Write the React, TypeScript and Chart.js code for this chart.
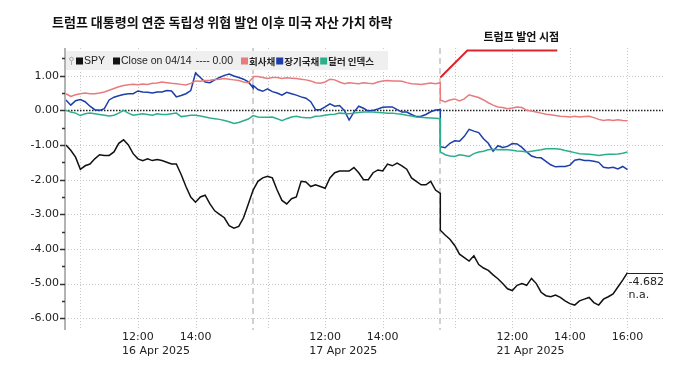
import { useEffect, useRef } from 'react';
import { Chart, registerables } from 'chart.js';

Chart.register(...registerables);

// ---- data (10-minute steps, 9:30–16:00, 40 points per trading day) ----
const DAYS = ['16 Apr 2025', '17 Apr 2025', '21 Apr 2025'];
const STEPS_PER_DAY = 39;

const spy = [
  -1.0, -1.15, -1.35, -1.7, -1.6, -1.55, -1.4, -1.28, -1.3, -1.3,
  -1.2, -0.95, -0.85, -1.0, -1.25, -1.4, -1.45, -1.4, -1.45, -1.42,
  -1.45, -1.5, -1.55, -1.55, -1.85, -2.2, -2.5, -2.65, -2.5, -2.45,
  -2.7, -2.9, -3.0, -3.1, -3.33, -3.4, -3.35, -3.1, -2.7, -2.3,
  -2.3, -2.05, -1.95, -1.9, -1.95, -2.3, -2.6, -2.7, -2.55, -2.5,
  -2.05, -2.07, -2.2, -2.15, -2.2, -2.25, -1.95, -1.8, -1.75, -1.75,
  -1.75, -1.65, -1.8, -2.0, -2.0, -1.8, -1.72, -1.75, -1.55, -1.6,
  -1.52, -1.6, -1.7, -1.95, -2.05, -2.15, -2.15, -2.05, -2.3, -2.4,
  -3.46, -3.6, -3.72, -3.9, -4.15, -4.25, -4.35, -4.2, -4.45, -4.55,
  -4.62, -4.75, -4.86, -5.0, -5.15, -5.2, -5.05, -5.0, -5.05, -4.85,
  -5.0, -5.25, -5.35, -5.38, -5.33, -5.4, -5.5, -5.58, -5.62, -5.5,
  -5.45, -5.4, -5.55, -5.62, -5.45, -5.38, -5.3, -5.1, -4.9, -4.682,
];

const corporateBonds = [
  0.48, 0.4, 0.45, 0.48, 0.5, 0.48, 0.48, 0.5, 0.53, 0.58,
  0.63, 0.68, 0.72, 0.74, 0.75, 0.74, 0.76, 0.75, 0.78, 0.79,
  0.82, 0.8, 0.78, 0.77, 0.75, 0.73, 0.78, 0.85, 0.84, 0.86,
  0.87, 0.89, 0.9, 0.92, 0.9, 0.88, 0.86, 0.82, 0.8, 0.95,
  0.98, 0.98, 0.95, 0.92, 0.95, 0.95, 0.92, 0.94, 0.93, 0.92,
  0.9, 0.88, 0.85, 0.8, 0.78, 0.82, 0.9, 0.88, 0.82, 0.77,
  0.8, 0.78, 0.77, 0.8, 0.78, 0.77, 0.82, 0.85, 0.86, 0.85,
  0.85, 0.84, 0.8, 0.77, 0.76, 0.75, 0.77, 0.79, 0.77, 0.8,
  0.3, 0.24, 0.3, 0.33, 0.27, 0.33, 0.45, 0.41, 0.37, 0.3,
  0.22, 0.15, 0.1, 0.08, 0.05, 0.07, 0.1, 0.08, 0.0, -0.02,
  -0.05, -0.08, -0.11, -0.13, -0.15, -0.17, -0.18, -0.19, -0.17, -0.19,
  -0.18, -0.17, -0.21, -0.26, -0.29, -0.27, -0.29, -0.27, -0.29, -0.3,
];

const longTreasuries = [
  0.3, 0.15, 0.28, 0.31, 0.25, 0.12, 0.02, 0.0, 0.05, 0.3,
  0.38, 0.42, 0.46, 0.48, 0.48, 0.56, 0.53, 0.52, 0.5, 0.53,
  0.53, 0.57, 0.56, 0.39, 0.43, 0.48, 0.57, 1.08, 0.95, 0.82,
  0.8, 0.88, 0.95, 1.01, 1.05, 0.99, 0.95, 0.9, 0.82, 0.65,
  0.72, 0.6, 0.55, 0.62, 0.54, 0.5, 0.44, 0.52, 0.48, 0.44,
  0.39, 0.35, 0.25, 0.02, 0.02, 0.1, 0.19, 0.12, 0.14, 0.0,
  -0.28, -0.05, 0.12, 0.06, -0.02, 0.0, 0.04, 0.09, 0.1, 0.1,
  0.02, -0.05, -0.05, -0.12, -0.18, -0.17, -0.12, -0.04, 0.01, 0.02,
  -1.05, -1.08, -0.95, -0.88, -0.89, -0.75, -0.55, -0.6, -0.64, -0.82,
  -0.95, -1.18, -1.02, -1.07, -1.04, -0.96, -0.97, -1.07, -1.2, -1.32,
  -1.36, -1.37, -1.47, -1.57, -1.63, -1.62, -1.62, -1.58, -1.44, -1.41,
  -1.45, -1.45, -1.47, -1.5, -1.64, -1.66, -1.64, -1.69, -1.62, -1.71,
];

const dollarIndex = [
  0.0, -0.05, -0.08, -0.15, -0.1, -0.08, -0.1, -0.12, -0.14, -0.16,
  -0.14, -0.08, 0.0, -0.08, -0.14, -0.12, -0.1, -0.12, -0.14, -0.1,
  -0.12, -0.12, -0.1, -0.08, -0.18, -0.16, -0.14, -0.14, -0.16, -0.19,
  -0.22, -0.24, -0.26, -0.29, -0.33, -0.38, -0.35, -0.3, -0.25, -0.15,
  -0.15, -0.19, -0.2, -0.2, -0.19, -0.24, -0.3, -0.24, -0.19, -0.17,
  -0.2, -0.21, -0.21, -0.17, -0.16, -0.14, -0.12, -0.11, -0.08, -0.09,
  -0.1, -0.08, -0.06, -0.05, -0.05, -0.05, -0.06, -0.07, -0.08, -0.08,
  -0.1, -0.11, -0.14, -0.16, -0.19, -0.2, -0.21, -0.22, -0.23, -0.24,
  -1.2, -1.28, -1.32, -1.33, -1.28, -1.3, -1.33, -1.25, -1.2, -1.18,
  -1.14, -1.12, -1.14, -1.13, -1.14, -1.15, -1.17, -1.18, -1.2, -1.18,
  -1.16, -1.14, -1.11, -1.11, -1.11, -1.12, -1.16, -1.19, -1.22, -1.25,
  -1.26, -1.27, -1.28, -1.3, -1.28, -1.27, -1.27, -1.26, -1.24, -1.2,
];

// x-axis ticks (index in 10-minute steps from 16 Apr open)
const timeTickIdx = [15, 27, 54, 66, 93, 105, 117];
const timeTickLabels = ['12:00', '14:00', '12:00', '14:00', '12:00', '14:00', '16:00'];
const dateTickIdx = [15, 54, 93];
const hourGridIdx = [3, 15, 27, 42, 54, 66, 81, 93, 105, 117];
const dayBreakIdx = [39, 78];
const eventIdx = 78;

const TITLE = '트럼프 대통령의 연준 독립성 위협 발언 이후 미국 자산 가치 하락';
const EVENT_LABEL = '트럼프 발언 시점';

const COLORS = {
  spy: '#111111',
  corp: '#e77b7d',
  treas: '#1b3ea8',
  dollar: '#2bae8a',
};

const idxToX = (k: number) => Math.floor(k / 40) * STEPS_PER_DAY + (k % 40);
const toPoints = (arr: number[]) => arr.map((v, k) => ({ x: idxToX(k), y: v }));

const AXIS_FONT = '11px "DejaVu Sans"';

const overlayPlugin = {
  id: 'overlay',
  beforeDatasetsDraw(chart: any) {
    const { ctx, chartArea: a } = chart;
    const xs = chart.scales.x;
    const ys = chart.scales.y;
    ctx.save();
    // horizontal grid
    ctx.lineWidth = 1;
    ctx.strokeStyle = '#c9c9c9';
    ctx.setLineDash([1, 2]);
    ys.ticks.forEach((t: any) => {
      if (t.value === 0) return;
      const py = Math.round(ys.getPixelForValue(t.value)) + 0.5;
      ctx.beginPath();
      ctx.moveTo(a.left, py);
      ctx.lineTo(a.right, py);
      ctx.stroke();
    });
    // vertical hour grid
    hourGridIdx.forEach((i) => {
      const px = Math.round(xs.getPixelForValue(i)) + 0.5;
      ctx.beginPath();
      ctx.moveTo(px, a.top);
      ctx.lineTo(px, a.bottom);
      ctx.stroke();
    });
    // day breaks
    ctx.setLineDash([6, 4]);
    ctx.strokeStyle = '#c6c6c6';
    ctx.lineWidth = 1.6;
    dayBreakIdx.forEach((i) => {
      const px = Math.round(xs.getPixelForValue(i));
      ctx.beginPath();
      ctx.moveTo(px, a.top);
      ctx.lineTo(px, a.bottom);
      ctx.stroke();
    });
    // zero reference line (Close on 04/14)
    ctx.setLineDash([1.5, 1.5]);
    ctx.strokeStyle = '#222';
    ctx.lineWidth = 1.3;
    const zy = Math.round(ys.getPixelForValue(0)) + 0.5;
    ctx.beginPath();
    ctx.moveTo(a.left, zy);
    ctx.lineTo(a.right, zy);
    ctx.stroke();
    ctx.restore();
  },
  afterDraw(chart: any) {
    const { ctx, chartArea: a } = chart;
    const xs = chart.scales.x;
    const ys = chart.scales.y;
    ctx.save();
    // y axis line
    ctx.strokeStyle = '#9a9a9a';
    ctx.lineWidth = 1.5;
    ctx.beginPath();
    ctx.moveTo(a.left, a.top);
    ctx.lineTo(a.left, a.bottom);
    ctx.stroke();
    // tick marks (major + half-step minor)
    ctx.strokeStyle = '#333';
    ctx.lineWidth = 1.5;
    ys.ticks.forEach((t: any) => {
      const py = Math.round(ys.getPixelForValue(t.value)) + 0.5;
      ctx.beginPath();
      ctx.moveTo(a.left - 5, py);
      ctx.lineTo(a.left, py);
      ctx.stroke();
      const half = t.value + 0.5;
      if (half <= ys.max) {
        const ph = Math.round(ys.getPixelForValue(half)) + 0.5;
        ctx.beginPath();
        ctx.moveTo(a.left - 3, ph);
        ctx.lineTo(a.left, ph);
        ctx.stroke();
      }
    });

    // x labels
    ctx.fillStyle = '#222';
    ctx.font = AXIS_FONT;
    ctx.textBaseline = 'middle';
    ctx.textAlign = 'center';
    timeTickIdx.forEach((i, k) => {
      ctx.fillText(timeTickLabels[k], xs.getPixelForValue(i), a.bottom + 7);
    });
    ctx.textAlign = 'left';
    const tw = ctx.measureText('12:00').width;
    dateTickIdx.forEach((i, k) => {
      ctx.fillText(DAYS[k], xs.getPixelForValue(i) - tw / 2, a.bottom + 21);
    });

    // title
    ctx.fillStyle = '#111';
    ctx.font = 'bold 13px "Noto Sans CJK KR"';
    ctx.textAlign = 'left';
    ctx.fillText(TITLE, 52, 22);

    // legend
    const ly = 61;
    let lx = 70;
    const latin = '10.5px "Liberation Sans"';
    const kor = 'bold 9.5px "Noto Sans CJK KR"';
    ctx.fillStyle = '#efefef';
    ctx.fillRect(a.left + 1, 51, 322, 19);
    ctx.strokeStyle = '#aaa';
    ctx.lineWidth = 1;
    ctx.beginPath();
    ctx.arc(lx + 1.5, ly - 2, 1.8, 0, Math.PI * 2);
    ctx.moveTo(lx + 1.5, ly);
    ctx.lineTo(lx + 1.5, ly + 4);
    ctx.stroke();
    lx += 6;
    const square = (color: string) => {
      ctx.fillStyle = color;
      ctx.fillRect(lx, ly - 3.5, 7, 7);
      lx += 8;
    };
    const text = (s: string, font: string, gap: number) => {
      ctx.font = font;
      ctx.fillStyle = '#222';
      ctx.fillText(s, lx, ly + 0.5);
      lx += ctx.measureText(s).width + gap;
    };
    square('#111');
    text('SPY', latin, 8);
    square('#111');
    text('Close on 04/14', latin, 4);
    text('---- 0.00', latin, 8);
    square(COLORS.corp);
    text('회사채', kor, 1);
    square(COLORS.treas);
    text('장기국채', kor, 1);
    square(COLORS.dollar);
    text('달러 인덱스', kor, 0);

    // event annotation
    const ex = xs.getPixelForValue(eventIdx);
    const ey = ys.getPixelForValue(0.95);
    ctx.strokeStyle = '#d8262c';
    ctx.lineWidth = 2;
    ctx.beginPath();
    ctx.moveTo(ex, ey);
    ctx.lineTo(ex + 27, ey - 27);
    ctx.lineTo(ex + 117, ey - 27);
    ctx.stroke();
    ctx.fillStyle = '#111';
    ctx.font = 'bold 11px "Noto Sans CJK KR"';
    ctx.textAlign = 'center';
    ctx.fillText(EVENT_LABEL, ex + 81, 37);

    // last value label
    const lastK = spy.length - 1;
    const last = spy[lastK];
    const lastX = xs.getPixelForValue(idxToX(lastK));
    const py = Math.round(ys.getPixelForValue(last)) + 0.5;
    ctx.strokeStyle = '#222';
    ctx.lineWidth = 1;
    ctx.beginPath();
    ctx.moveTo(lastX, py);
    ctx.lineTo(a.right, py);
    ctx.stroke();
    ctx.font = AXIS_FONT;
    ctx.textAlign = 'left';
    ctx.fillStyle = '#222';
    ctx.fillText(last.toFixed(3), lastX + 1, py + 9);
    ctx.fillText('n.a.', lastX + 1, py + 22);
    ctx.restore();
  },
};

export default function App() {
  const ref = useRef<HTMLCanvasElement | null>(null);
  useEffect(() => {
    document.body.style.margin = '0';
    const canvas = ref.current;
    if (!canvas) return;
    const line = (label: string, data: number[], color: string) => ({
      label,
      data: toPoints(data),
      borderColor: color,
      backgroundColor: color,
      borderWidth: 1.5,
      pointRadius: 0,
      tension: 0,
      fill: false,
    });
    const chart = new Chart(canvas, {
      type: 'line',
      data: {
        datasets: [
          line('회사채', corporateBonds, COLORS.corp),
          line('달러 인덱스', dollarIndex, COLORS.dollar),
          line('장기국채', longTreasuries, COLORS.treas),
          line('SPY', spy, COLORS.spy),
        ],
      },
      options: {
        animation: false,
        responsive: false,
        layout: { padding: { top: 48, right: 17, bottom: 49, left: 0 } },
        plugins: {
          legend: { display: false },
          tooltip: { enabled: false },
          title: { display: false },
        },
        scales: {
          x: {
            type: 'linear',
            display: false,
            min: -0.2,
            max: 124.4,
          },
          y: {
            type: 'linear',
            min: -6.34,
            max: 1.8,
            border: { display: false },
            grid: { display: false, drawTicks: false },
            ticks: {
              stepSize: 1,
              includeBounds: false,
              padding: 6,
              color: '#222',
              font: { family: 'DejaVu Sans', size: 11 },
              callback: (v: any) => Number(v).toFixed(2),
            },
            afterFit: (s: any) => {
              s.width = 65;
            },
          },
        },
      },
      plugins: [overlayPlugin],
    } as any);
    return () => chart.destroy();
  }, []);
  return <canvas ref={ref} width={680} height={379} style={{ display: 'block' }} />;
}
